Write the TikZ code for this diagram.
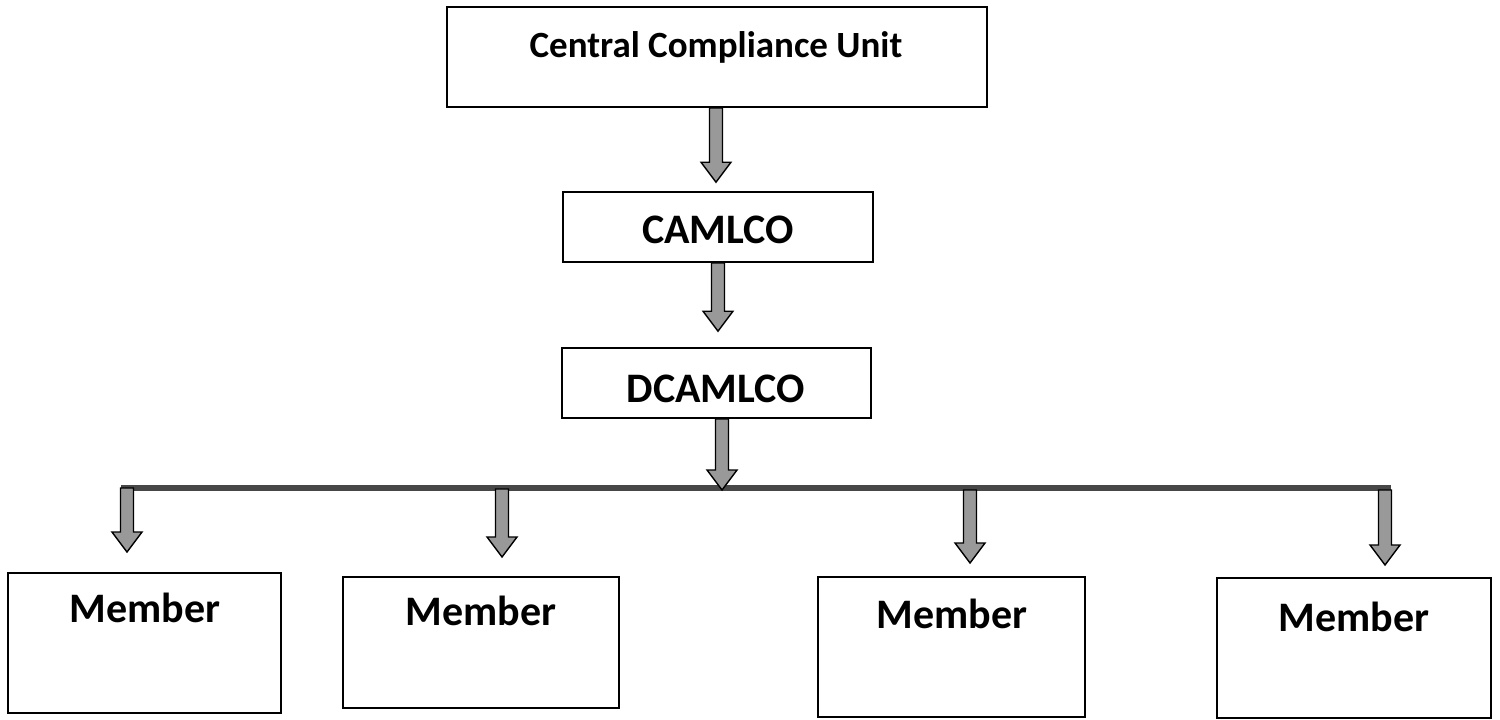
\documentclass[tikz,border=0pt]{standalone}
\usepackage{fontspec}
\setmainfont{Carlito}
\usetikzlibrary{calc}
\tikzset{
  box/.style={draw=black, line width=1.6pt, rectangle, inner sep=0pt},
  lbl/.style={font=\bfseries\fontsize{42}{42}\selectfont, inner sep=0pt, anchor=base},
  blockarrow/.style={draw=black, line width=1.4pt, fill=black!40, line join=miter,
    to path={let \p1=(\tikztostart), \p2=(\tikztotarget) in
      (\x2-6.5pt,\y1) -- (\x2-6.5pt,\y2+20pt) -- (\x2-15pt,\y2+20pt) -- (\x2,\y2)
      -- (\x2+15pt,\y2+20pt) -- (\x2+6.5pt,\y2+20pt) -- (\x2+6.5pt,\y1) -- cycle}},
  busbar/.style={draw=black!72, line width=6.5pt}
}
\begin{document}
\begin{tikzpicture}[x=1pt,y=-1pt]
\useasboundingbox (0,0) rectangle (1500,720);
% boxes
\node[box, minimum width=540pt, minimum height=100pt] (ccu) at (717,57) {};
\node[lbl, font=\bfseries\fontsize{37}{37}\selectfont] (ccut) at (716,57) {Central Compliance Unit};
\node[box, minimum width=310pt, minimum height=70pt] (camlco) at (718,227) {};
\node[lbl] (camlcot) at (718,243) {CAMLCO};
\node[box, minimum width=309pt, minimum height=70pt] (dcamlco) at (716.5,383) {};
\node[lbl] (dcamlcot) at (716,402) {DCAMLCO};
\node[box, minimum width=273pt, minimum height=140pt] (m1) at (144.5,643) {};
\node[lbl] (m1t) at (145,622) {Member};
\node[box, minimum width=276pt, minimum height=131pt] (m2) at (481,642.5) {};
\node[lbl] (m2t) at (481,625) {Member};
\node[box, minimum width=267pt, minimum height=140pt] (m3) at (951.5,647) {};
\node[lbl] (m3t) at (952,628) {Member};
\node[box, minimum width=274pt, minimum height=140pt] (m4) at (1354,648) {};
\node[lbl] (m4t) at (1354,631) {Member};
% bus bar
\coordinate (barL) at (121,488);
\coordinate (barR) at (1391,488);
\draw[busbar] (barL) -- (barR);
% bar points and arrow tips
\coordinate (b1) at (127,488);
\coordinate (t1) at (127,552);
\coordinate (b2) at (502,489);
\coordinate (t2) at (502,557);
\coordinate (b3) at (970,490);
\coordinate (t3) at (970,563);
\coordinate (b4) at (1385,490);
\coordinate (t4) at (1385,565);
\coordinate (tbar) at (722,490);
% arrows
\draw[blockarrow] (ccu.south) to ([yshift=9pt]camlco.north -| 716,0);
\draw[blockarrow] (camlco.south) to ([yshift=16pt]dcamlco.north -| 718,0);
\draw[blockarrow] (dcamlco.south) to (tbar);
\draw[blockarrow] (b1) to (t1);
\draw[blockarrow] (b2) to (t2);
\draw[blockarrow] (b3) to (t3);
\draw[blockarrow] (b4) to (t4);
\end{tikzpicture}
\end{document}
